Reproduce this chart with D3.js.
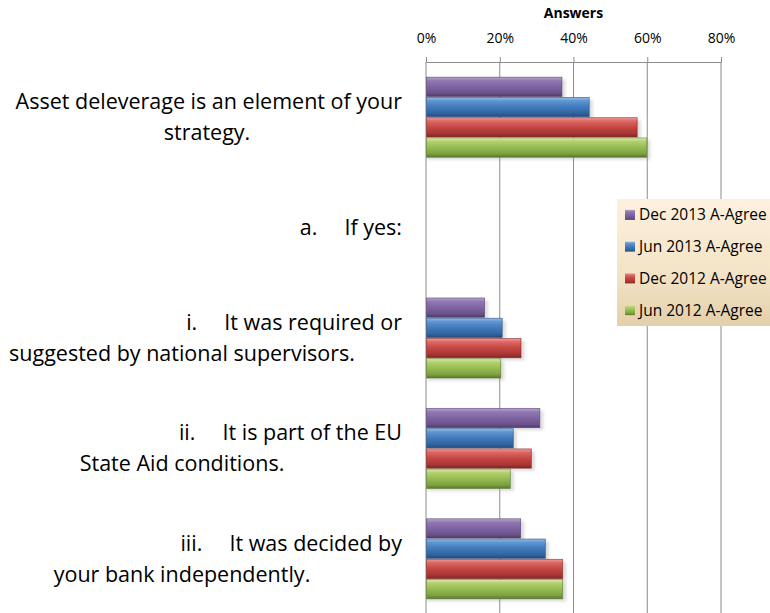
<!DOCTYPE html>
<html>
<head>
<meta charset="utf-8">
<script src="https://cdn.jsdelivr.net/npm/d3@7/dist/d3.min.js"></script>
<style>
  html, body { margin: 0; padding: 0; background: #fff; }
  svg { display: block; }
  text { font-family: "Open Sans", Lato, sans-serif; fill: #000; }
</style>
</head>
<body>
<svg id="chart" width="770" height="613"></svg>
<script>
// Survey categories (each label is wrapped over up to two lines)
const categories = ["asset", "ifyes", "supervisors", "stateaid", "independent"];
const labelLine1 = [
  "Asset deleverage is an element of your",
  "a.\u2003 If yes:",
  "i.\u2003 It was required or",
  "ii.\u2003 It is part of the EU",
  "iii.\u2003 It was decided by"
];
const labelLine2 = [
  "strategy.",
  "",
  "suggested by national supervisors.",
  "State Aid conditions.",
  "your bank independently."
];

// Series, drawn top to bottom within each category (percent of answers)
const seriesNames = ["Dec 2013 A-Agree", "Jun 2013 A-Agree", "Dec 2012 A-Agree", "Jun 2012 A-Agree"];
const dec2013 = [37.0, null, 16.0, 31.0, 25.8];
const jun2013 = [44.4, null, 20.8, 23.8, 32.5];
const dec2012 = [57.4, null, 25.9, 28.7, 37.2];
const jun2012 = [60.0, null, 20.4, 23.0, 37.2];
const seriesValues = [dec2013, jun2013, dec2012, jun2012];

const tickValues = [0, 20, 40, 60, 80];
const axisTitle = "Answers";

// ---- layout ----
const svg = d3.select("#chart");
const plot = { left: 426, right: 721, top: 62, bottom: 614 };

const x = d3.scaleLinear().domain([0, 80]).range([plot.left, plot.right]);
const y = d3.scaleBand().domain(categories).range([plot.top, plot.bottom])
  .paddingInner(0.266).paddingOuter(0.133);
const ySeries = d3.scaleBand().domain(seriesNames).range([0, y.bandwidth()]);

// Glossy bar gradients: highlight at the top, darker towards the bottom
const palettes = [
  ["#b7a6cc", "#9179b3", "#7f63a2", "#6b528b", "#4e3b68"],
  ["#93bde8", "#5d96d1", "#4179ba", "#30649f", "#244b7c"],
  ["#f39a96", "#db6763", "#c44642", "#a83633", "#7c2624"],
  ["#dfeca9", "#b3d06f", "#95bc51", "#7ca140", "#5a772c"]
];
const defs = svg.append("defs");
palettes.forEach((p, i) => {
  const g = defs.append("linearGradient").attr("id", "bar" + i)
    .attr("x1", 0).attr("y1", 0).attr("x2", 0).attr("y2", 1);
  [[0, p[0]], [0.18, p[1]], [0.5, p[2]], [0.82, p[3]], [1, p[4]]].forEach(([o, c]) =>
    g.append("stop").attr("offset", o).attr("stop-color", c));
});
const legendGrad = defs.append("linearGradient").attr("id", "legendFill")
  .attr("x1", 0).attr("y1", 0).attr("x2", 0).attr("y2", 1);
legendGrad.append("stop").attr("offset", 0).attr("stop-color", "#fdf1de");
legendGrad.append("stop").attr("offset", 0.6).attr("stop-color", "#f3e3c6");
legendGrad.append("stop").attr("offset", 1).attr("stop-color", "#e3cfa9");
const blur = defs.append("filter").attr("id", "shadow")
  .attr("x", "-10%").attr("y", "-30%").attr("width", "130%").attr("height", "180%");
blur.append("feGaussianBlur").attr("stdDeviation", 1.6);

// Gridlines
svg.append("g").selectAll("line").data(tickValues).join("line")
  .attr("x1", d => x(d)).attr("x2", d => x(d))
  .attr("y1", plot.top).attr("y2", plot.bottom)
  .attr("stroke", "#8c8c8c").attr("stroke-width", 1);

// Top axis
const axis = svg.append("g").attr("transform", `translate(0,${plot.top})`)
  .call(d3.axisTop(x).tickValues(tickValues).tickFormat(d => d + "%").tickSize(5).tickPadding(14));
axis.select(".domain").attr("stroke", "#8c8c8c");
axis.selectAll(".tick line").attr("stroke", "#8c8c8c");
axis.selectAll(".tick text").style("font-size", "14px").style("font-family", "'Open Sans', sans-serif").attr("fill", "#000");

svg.append("text").attr("x", (plot.left + plot.right) / 2).attr("y", 18)
  .attr("text-anchor", "middle").style("font-size", "14px").style("font-weight", "bold")
  .text(axisTitle);

// Bars
const barData = [];
categories.forEach((c, ci) => {
  seriesNames.forEach((s, si) => {
    const v = seriesValues[si][ci];
    if (v != null) barData.push({ c, s, si, v });
  });
});
const bars = svg.append("g");
bars.selectAll("rect.shadow").data(barData).join("rect").attr("class", "shadow")
  .attr("x", x(0) + 1)
  .attr("y", d => y(d.c) + ySeries(d.s) + 3)
  .attr("width", d => x(d.v) - x(0) + 2)
  .attr("height", ySeries.bandwidth() - 1)
  .attr("fill", "#9a9a9a").attr("opacity", 0.35).attr("filter", "url(#shadow)");
bars.selectAll("rect.bar").data(barData).join("rect").attr("class", "bar")
  .attr("x", x(0) + 0.5)
  .attr("y", d => y(d.c) + ySeries(d.s) + 0.5)
  .attr("width", d => x(d.v) - x(0) - 1)
  .attr("height", ySeries.bandwidth() - 1)
  .attr("fill", d => `url(#bar${d.si})`)
  .attr("stroke", d => palettes[d.si][4]).attr("stroke-width", 0.8).attr("stroke-opacity", 0.7);

// Category labels
const labelRight = 402;
const secondLineCenter = (i) => i === 0 ? 207 : 182;
const labels = svg.append("g").style("font-size", "21.5px");
categories.forEach((c, i) => {
  const cy = y(c) + y.bandwidth() / 2;
  const two = labelLine2[i] !== "";
  const gap = 31;
  labels.append("text").attr("x", labelRight).attr("text-anchor", "end")
    .attr("y", two ? cy - gap / 2 : cy).attr("dy", "0.35em")
    .attr("xml:space", "preserve").text(labelLine1[i]);
  if (two) {
    labels.append("text").attr("x", secondLineCenter(i)).attr("text-anchor", "middle")
      .attr("y", cy + gap / 2).attr("dy", "0.35em").text(labelLine2[i]);
  }
});

// Legend
const legend = svg.append("g").attr("transform", "translate(617,199)");
legend.append("rect").attr("width", 153).attr("height", 127).attr("fill", "url(#legendFill)");
const rowY = d3.scaleBand().domain(seriesNames).range([0, 127]);
const items = legend.selectAll("g.item").data(seriesNames).join("g").attr("class", "item")
  .attr("transform", d => `translate(0,${rowY(d) + rowY.bandwidth() / 2})`);
items.append("rect").attr("x", 8).attr("y", -5).attr("width", 10).attr("height", 10)
  .attr("fill", (d, i) => `url(#bar${i})`);
items.append("text").attr("x", 22).attr("dy", "0.35em").style("font-size", "15.5px").text(d => d);
</script>
</body>
</html>
